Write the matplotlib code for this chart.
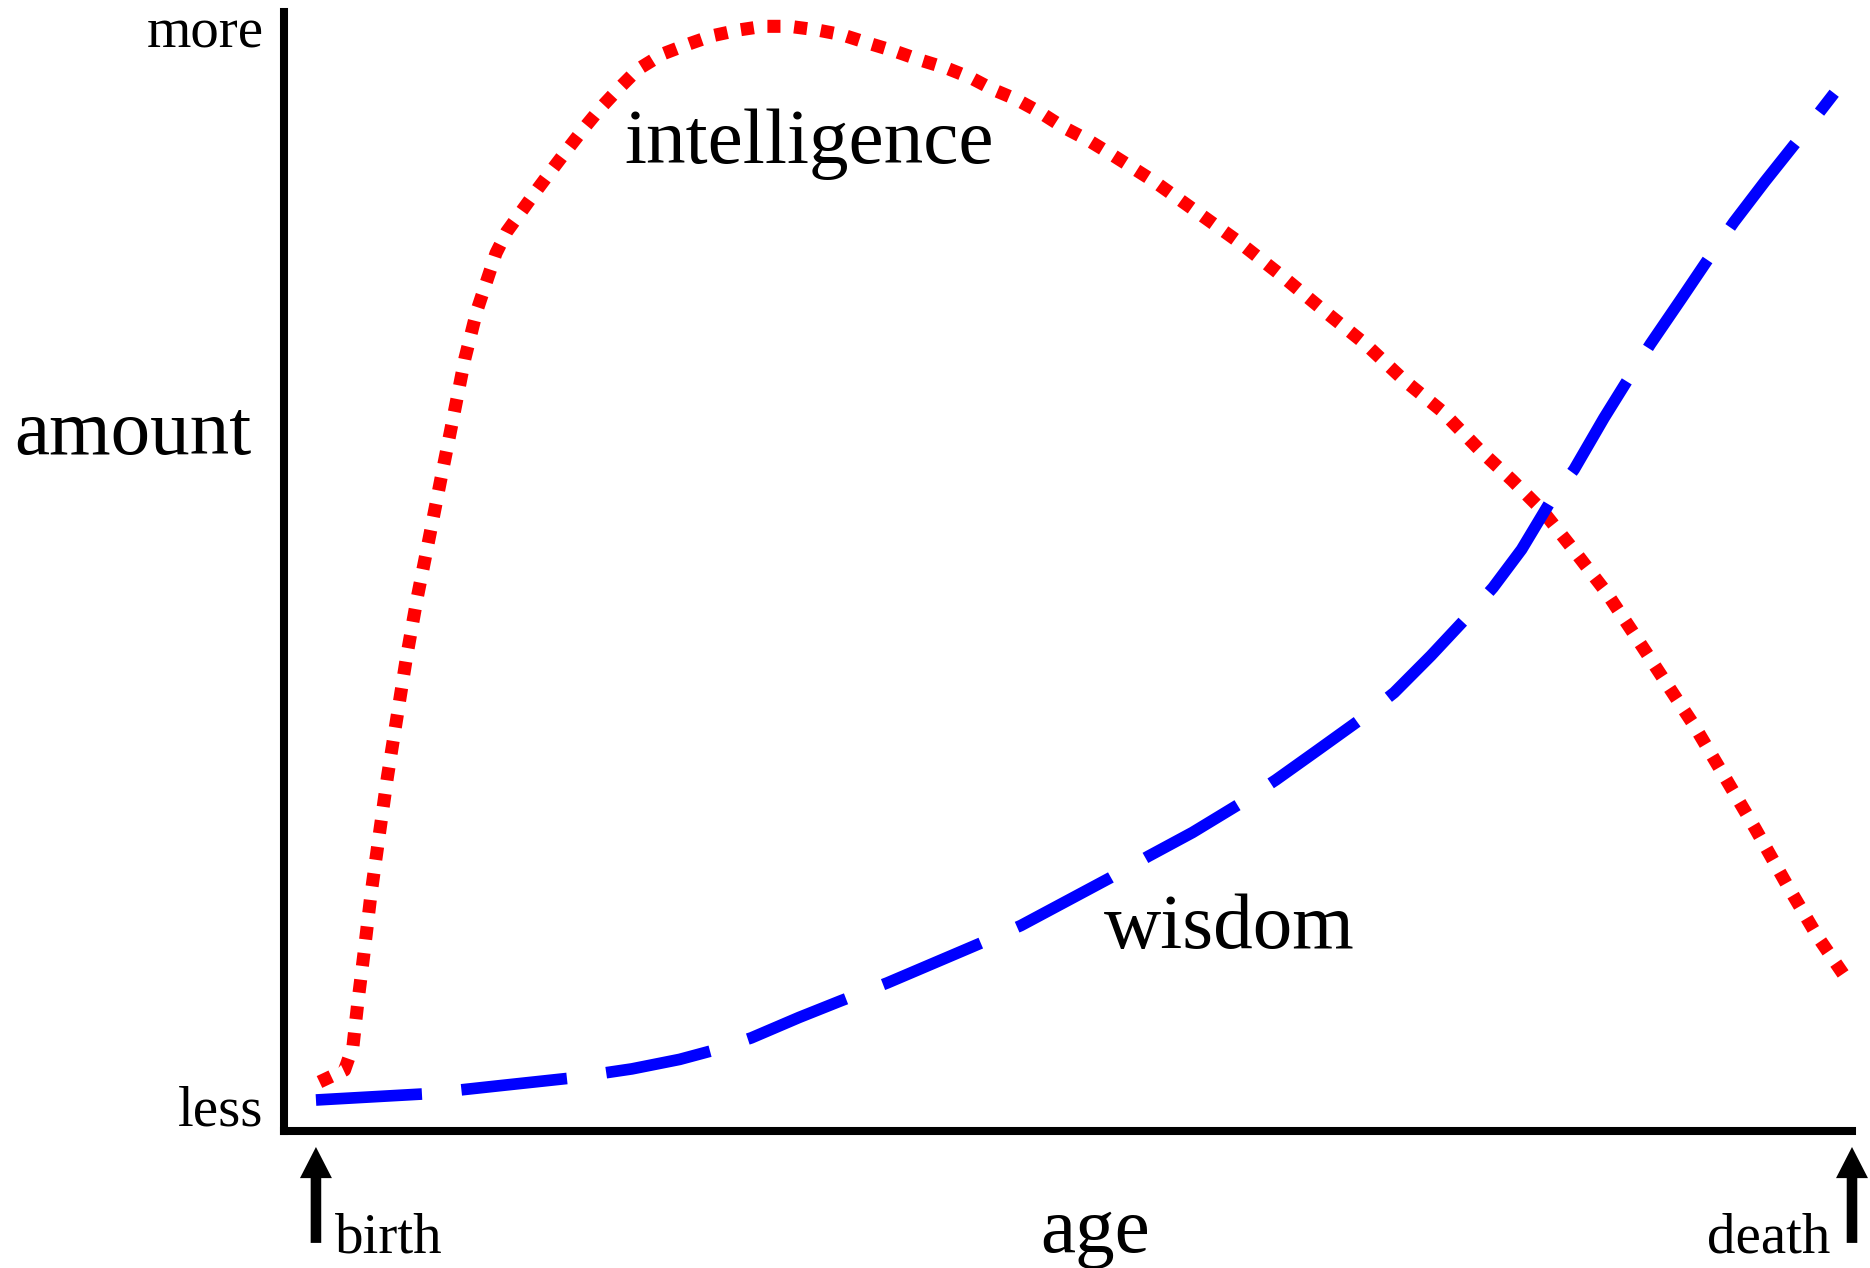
import matplotlib
matplotlib.use("Agg")
import matplotlib.pyplot as plt
from matplotlib.patches import FancyArrowPatch

# ---- data (age: birth=0 .. death=100, amount: less=0 .. more=100) ----
intel_age = [0.23, 1.86, 2.41, 2.72, 3.11, 3.57, 4.11, 4.66, 5.28, 5.90, 6.60,
             7.38, 8.15, 8.93, 9.70, 10.48, 11.10, 11.72, 12.42, 13.43, 14.44,
             15.37, 16.38, 17.47, 18.56, 19.80, 20.96, 22.59, 24.22, 25.78,
             27.56, 29.11, 30.82, 32.61, 34.24, 35.95, 37.73, 39.29, 41.07,
             42.62, 44.10, 45.57, 47.13, 48.60, 50.23, 51.63, 54.58, 57.53,
             60.02, 62.89, 65.61, 68.32, 70.81, 73.29, 75.78, 77.87, 79.81,
             81.91, 84.01, 85.87, 87.81, 89.75, 91.69, 93.71, 95.73, 97.75,
             99.77]
intel_amt = [4.38, 5.44, 7.58, 11.42, 15.69, 21.02, 26.36, 31.70, 37.03, 42.37,
             47.71, 53.04, 58.38, 63.71, 69.05, 73.32, 75.88, 78.44, 80.36,
             82.28, 84.20, 85.91, 87.73, 89.65, 91.46, 93.28, 94.88, 96.26,
             97.12, 97.87, 98.40, 98.72, 98.72, 98.40, 97.97, 97.22, 96.48,
             95.73, 94.98, 94.13, 93.06, 92.21, 91.04, 89.75, 88.58, 87.41,
             84.85, 81.96, 79.51, 76.41, 73.32, 70.33, 67.13, 64.35, 60.83,
             58.16, 55.50, 51.87, 48.13, 44.29, 40.23, 36.18, 31.70, 27.00,
             22.09, 17.40, 13.34]

wisdom_age = [0.0, 6.99, 12.03, 16.38, 20.57, 23.68, 26.01, 28.34, 31.44, 34.16,
              37.19, 43.40, 45.89, 51.71, 54.19, 57.07, 60.02, 62.50, 65.22,
              67.93, 70.19, 72.59, 74.77, 76.63, 78.49, 80.36, 81.91, 83.85,
              85.40, 86.88, 88.90, 90.68, 92.31, 94.33, 96.43, 98.84]
wisdom_amt = [2.77, 3.31, 4.06, 4.70, 5.55, 6.40, 7.26, 8.32, 10.14, 11.63,
              13.23, 16.86, 18.36, 22.63, 24.55, 26.68, 29.14, 31.38, 34.04,
              36.71, 39.17, 42.48, 45.68, 48.56, 51.97, 56.24, 59.12, 63.71,
              67.13, 70.33, 74.39, 78.01, 81.22, 84.85, 88.47, 92.74]

series_labels = ["intelligence", "wisdom"]
y_labels = ["less", "more"]
x_labels = ["birth", "death"]

plt.rcParams['font.family'] = ['Liberation Serif', 'DejaVu Serif']

fig = plt.figure(figsize=(18.70, 12.68), dpi=100)
ax = fig.add_axes([284 / 1870, 1 - 1131 / 1268, (1852 - 284) / 1870, (1131 - 12) / 1268])
ax.set_xlim(-2.08, 100)
ax.set_ylim(0, 100)
for s in ["top", "right"]:
    ax.spines[s].set_visible(False)
for s in ["left", "bottom"]:
    ax.spines[s].set_linewidth(5.8)
    ax.spines[s].set_color("black")
ax.set_xticks([])
ax.set_yticks([])

ax.plot(intel_age, intel_amt, color="#ff0000", lw=9.4,
        linestyle=(0, (1.0, 1.05)), dash_capstyle="butt", clip_on=False, zorder=3)
ax.plot(wisdom_age, wisdom_amt, color="#0000ff", lw=8.4,
        linestyle=(0, (9.1, 3.4)), dash_capstyle="butt", clip_on=False, zorder=4)

small = 41
big = 57
ax.text(-3.39, 96.8, y_labels[1], fontsize=small, ha="right", va="baseline", clip_on=False)
ax.text(-3.45, 0.45, y_labels[0], fontsize=small, ha="right", va="baseline", clip_on=False)
ax.text(-4.17, 60.5, "amount", fontsize=big, ha="right", va="baseline", clip_on=False)
ax.text(50.7, -10.8, "age", fontsize=big, ha="center", va="baseline", clip_on=False)
ax.text(1.24, -10.9, x_labels[0], fontsize=small, ha="left", va="baseline", clip_on=False)
ax.text(98.6, -10.9, x_labels[1], fontsize=small, ha="right", va="baseline", clip_on=False)
ax.text(20.1, 86.5, series_labels[0], fontsize=big, ha="left", va="baseline", clip_on=False)
ax.text(51.3, 16.35, series_labels[1], fontsize=big, ha="left", va="baseline", clip_on=False)

for xa in (0, 100):
    arr = FancyArrowPatch((xa, -10.0), (xa, -1.43),
                          arrowstyle="simple,head_length=1.12,head_width=1.15,tail_width=0.38",
                          mutation_scale=20, color="black", lw=0,
                          shrinkA=0, shrinkB=0, clip_on=False)
    ax.add_patch(arr)

fig.savefig("out.png", dpi=100, facecolor="white")
